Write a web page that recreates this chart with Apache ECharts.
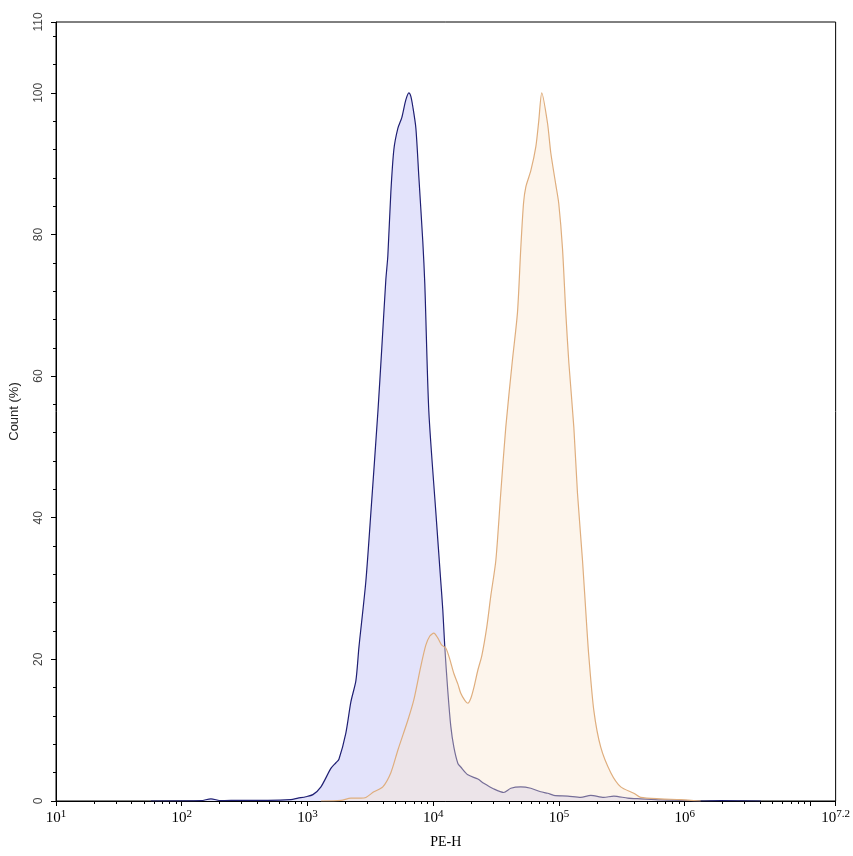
<!DOCTYPE html>
<html>
<head>
<meta charset="utf-8">
<script src="https://cdn.jsdelivr.net/npm/echarts@6/dist/echarts.min.js"></script>
<style>html,body{margin:0;padding:0;background:#fff}#chart{width:853px;height:856px}</style>
</head>
<body>
<div id="chart"></div>
<script>
// PE-H positions given as log10 exponents, counts in % of max
const blueLogX = [1.755,2.153,2.232,2.312,2.471,2.685,2.868,2.924,2.987,3.043,3.107,3.186,3.226,3.250,3.305,3.345,3.385,3.409,3.464,3.504,3.560,3.591,3.623,3.639,3.663,3.687,3.719,3.750,3.782,3.806,3.822,3.838,3.862,3.886,3.917,3.933,3.965,4.021,4.060,4.076,4.092,4.116,4.140,4.164,4.196,4.219,4.275,4.355,4.402,4.482,4.561,4.617,4.696,4.776,4.855,4.911,4.959,5.070,5.173,5.253,5.356,5.436,5.547,5.650,5.809,5.968,6.127,6.286,6.604];
const blueCount = [0,0.05,0.3,0.05,0.1,0.1,0.2,0.4,0.6,0.9,2.0,4.6,5.4,5.9,9.6,14,17,21.7,31,40.7,55,64,73.6,77,86,92,95,96.5,99,100,99.5,98,95,88,79,73,55,40.7,31,27,21.7,15.5,10.5,7.6,5.3,4.8,3.7,3.1,2.5,1.7,1.2,1.8,2.0,1.8,1.3,1.1,0.8,0.7,0.5,0.8,0.5,0.7,0.4,0.3,0.15,0.1,0,0.05,0];

const orangeLogX = [3.107,3.266,3.345,3.425,3.464,3.528,3.599,3.663,3.719,3.798,3.846,3.901,3.941,3.973,4.005,4.037,4.068,4.100,4.132,4.164,4.196,4.219,4.251,4.275,4.299,4.323,4.355,4.386,4.426,4.458,4.498,4.537,4.577,4.630,4.670,4.696,4.718,4.736,4.776,4.816,4.839,4.863,4.909,4.935,4.975,4.998,5.028,5.054,5.078,5.118,5.147,5.187,5.221,5.237,5.277,5.332,5.412,5.491,5.595,5.650,5.809,5.968,6.127];
const orangeCount = [0,0.1,0.4,0.4,0.5,1.3,2,4,7.2,11.4,14.3,19,22,23.3,23.7,23,22,21.6,20,18,16.5,15.2,14.2,13.8,14.5,16,18.5,20.5,24.6,29,34,43.5,52.8,62.3,69,78,84.4,86.7,89,92.4,96,100,95.7,91.5,87,84.4,78,69,62,52.8,43.5,34,24.6,20.5,12.8,7.6,4,2,1.1,0.5,0.3,0.2,0];

// axis tick labels
const xMajorExponents = [1,2,3,4,5,6,7];
const xMaxExponent = 7.2;
const yLabelValues = [0,20,40,60,80,100,110];
const yMinorStep = 4;
const minorMultipliers = [2,3,4,5,6,7,8,9];

const xMinorTicks = [];
xMajorExponents.forEach(d => minorMultipliers.forEach(k => {
  const v = d + Math.log10(k);
  if (v < xMaxExponent) xMinorTicks.push(+v.toFixed(4));
}));
const yMinorTicks = [];
for (let v = yMinorStep; v < 110; v += yMinorStep) if (v % 20 !== 0) yMinorTicks.push(v);

const toPairs = (xs, ys) => xs.map((x, i) => [x, ys[i]]);

const chart = echarts.init(document.getElementById('chart'), null, {renderer: 'canvas'});
const black = '#000';
chart.setOption({
  animation: false,
  backgroundColor: '#fff',
  grid: {left: 55, right: 15, top: 22, bottom: 55, show: true, borderColor: black, borderWidth: 1, backgroundColor: 'transparent'},
  xAxis: [{
    type: 'value', min: 1, max: xMaxExponent, interval: 1, position: 'bottom',
    axisLine: {show: true, onZero: false, lineStyle: {color: black, width: 1}},
    axisTick: {show: true, length: 5, lineStyle: {color: black}},
    splitLine: {show: false},
    axisLabel: {
      showMaxLabel: true, showMinLabel: true, margin: 8,
      formatter: v => {
        const e = Math.round(v * 10) / 10;
        if (e === 7) return '';
        return '{b|10}{s|' + e + '}';
      },
      rich: {
        b: {fontFamily: 'Liberation Serif', fontSize: 15, color: black, lineHeight: 18},
        s: {fontFamily: 'Liberation Serif', fontSize: 11, color: black, verticalAlign: 'top', lineHeight: 12}
      }
    },
    name: 'PE-H', nameLocation: 'middle', nameGap: 34,
    nameTextStyle: {fontFamily: 'Liberation Serif', fontSize: 14, color: black}
  }, {
    type: 'value', min: 1, max: xMaxExponent, position: 'bottom',
    axisLine: {show: false},
    axisLabel: {show: false},
    splitLine: {show: false},
    axisTick: {show: true, length: 3, customValues: xMinorTicks, lineStyle: {color: black}}
  }],
  yAxis: [{
    type: 'value', min: 0, max: 110, interval: 20, position: 'left',
    axisLine: {show: true, lineStyle: {color: black, width: 1}},
    axisTick: {show: true, length: 5, lineStyle: {color: black}},
    splitLine: {show: false},
    axisLabel: {
      rotate: 90, showMaxLabel: true, margin: 11,
      fontFamily: 'Liberation Sans', fontSize: 12, color: '#444',
      formatter: v => (yLabelValues.indexOf(v) >= 0 ? String(v) : '')
    },
    name: 'Count (%)', nameLocation: 'middle', nameGap: 35,
    nameTextStyle: {fontFamily: 'Liberation Sans', fontSize: 13, color: '#222'}
  }, {
    type: 'value', min: 0, max: 110, position: 'left',
    axisLine: {show: false},
    axisLabel: {show: false},
    splitLine: {show: false},
    axisTick: {show: true, length: 3, customValues: yMinorTicks, lineStyle: {color: black}}
  }],
  series: [{
    type: 'line', xAxisIndex: 0, yAxisIndex: 0, data: toPairs(blueLogX, blueCount),
    showSymbol: false, smooth: 0.25,
    lineStyle: {color: '#1f1f73', width: 1.2},
    areaStyle: {color: '#e3e3fb', opacity: 1},
    z: 2
  }, {
    type: 'line', xAxisIndex: 0, yAxisIndex: 0, data: toPairs(orangeLogX, orangeCount),
    showSymbol: false, smooth: 0.25,
    lineStyle: {color: '#dfae7e', width: 1.2},
    areaStyle: {color: '#fbe6d0', opacity: 0.4},
    z: 3
  }]
});
</script>
</body>
</html>
